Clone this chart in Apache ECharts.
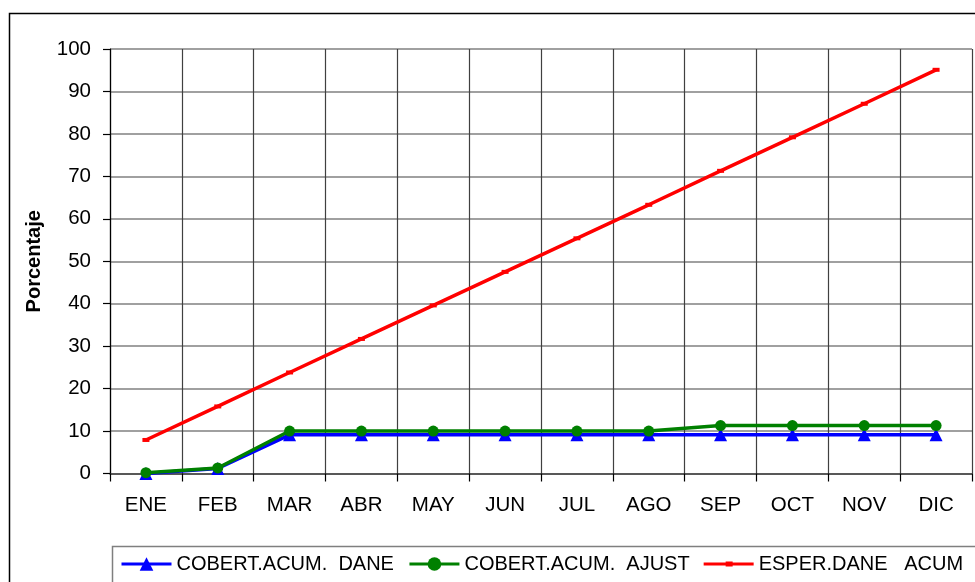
<!DOCTYPE html>
<html>
<head>
<meta charset="utf-8">
<script src="https://cdn.jsdelivr.net/npm/echarts@6/dist/echarts.min.js"></script>
<style>
  html, body { margin: 0; padding: 0; background: #ffffff; }
  #chart { width: 975px; height: 582px; }
</style>
</head>
<body>
<div id="chart"></div>
<script>
// Months of the year
const months = ['ENE', 'FEB', 'MAR', 'ABR', 'MAY', 'JUN', 'JUL', 'AGO', 'SEP', 'OCT', 'NOV', 'DIC'];

// Accumulated coverage (%)
const cobertDane = [0, 1.2, 9.1, 9.1, 9.1, 9.1, 9.1, 9.1, 9.1, 9.1, 9.1, 9.1];
const cobertAjust = [0.2, 1.3, 10, 10, 10, 10, 10, 10, 11.3, 11.3, 11.3, 11.3];
const esperDane = [7.9, 15.8, 23.8, 31.7, 39.6, 47.5, 55.4, 63.3, 71.3, 79.2, 87.1, 95.1];

const seriesNames = ['COBERT.ACUM.  DANE', 'COBERT.ACUM.  AJUST', 'ESPER.DANE   ACUM'];

const FONT = '"Liberation Sans", Arial, sans-serif';
const FS = 20.5;

const chart = echarts.init(document.getElementById('chart'), null, { renderer: 'canvas' });

chart.setOption({
  animation: false,
  backgroundColor: '#ffffff',
  textStyle: { fontFamily: FONT },
  grid: { left: 110, right: 3, top: 49, bottom: 108.5, containLabel: false },
  graphic: [
    // outer chart frame
    { type: 'rect', z: -1, shape: { x: 9.5, y: 13.5, width: 1100, height: 1000 },
      style: { fill: null, stroke: '#000000', lineWidth: 1.5 } },
    // legend frame
    { type: 'rect', z: -1, shape: { x: 112.5, y: 546.5, width: 1000, height: 100 },
      style: { fill: null, stroke: '#7f7f7f', lineWidth: 1.5 } }
  ],
  legend: {
    left: 120,
    top: 554,
    itemWidth: 50,
    itemHeight: 17,
    itemGap: 14,
    padding: 0,
    lineStyle: { width: 3 },
    textStyle: { fontFamily: FONT, fontSize: 20, color: '#000000' },
    data: [
      { name: seriesNames[0] },
      { name: seriesNames[1] },
      // plain line with a short centre dash
      { name: seriesNames[2],
        icon: 'path://M0,7 L50,7 L50,10 L0,10 Z M22,6 L29,6 L29,11 L22,11 Z' }
    ]
  },
  xAxis: {
    type: 'category',
    data: months,
    boundaryGap: true,
    axisLine: { show: true, lineStyle: { color: '#404040', width: 1.5 } },
    axisTick: { show: true, inside: false, length: 8, alignWithLabel: false,
      lineStyle: { color: '#000000', width: 1.2 } },
    axisLabel: { margin: 21, fontFamily: FONT, fontSize: FS, color: '#000000' },
    splitLine: { show: true, lineStyle: { color: '#404040', width: 1.2 } }
  },
  yAxis: {
    type: 'value',
    min: 0,
    max: 100,
    interval: 10,
    name: 'Porcentaje',
    nameLocation: 'middle',
    nameGap: 66,
    nameRotate: 90,
    nameTextStyle: { fontFamily: FONT, fontSize: 20, fontWeight: 'bold', color: '#000000' },
    axisLine: { show: true, lineStyle: { color: '#000000', width: 1.2 } },
    axisTick: { show: true, inside: false, length: 7, lineStyle: { color: '#000000', width: 1.2 } },
    axisLabel: { margin: 19, fontFamily: FONT, fontSize: FS, color: '#000000' },
    splitLine: { show: true, lineStyle: { color: '#808080', width: 1.5 } }
  },
  series: [
    {
      name: seriesNames[0],
      type: 'line',
      data: cobertDane,
      symbol: 'triangle',
      symbolSize: 13,
      color: '#0000ff',
      lineStyle: { color: '#0000ff', width: 3.5 },
      itemStyle: { color: '#0000ff' },
      z: 3
    },
    {
      name: seriesNames[1],
      type: 'line',
      data: cobertAjust,
      symbol: 'circle',
      symbolSize: 11,
      color: '#008000',
      lineStyle: { color: '#008000', width: 3.5 },
      itemStyle: { color: '#008000' },
      z: 4
    },
    {
      name: seriesNames[2],
      type: 'line',
      data: esperDane,
      symbol: 'rect',
      symbolSize: [7, 4],
      color: '#ff0000',
      lineStyle: { color: '#ff0000', width: 3.5 },
      itemStyle: { color: '#ff0000' },
      z: 2
    }
  ]
});
</script>
</body>
</html>
